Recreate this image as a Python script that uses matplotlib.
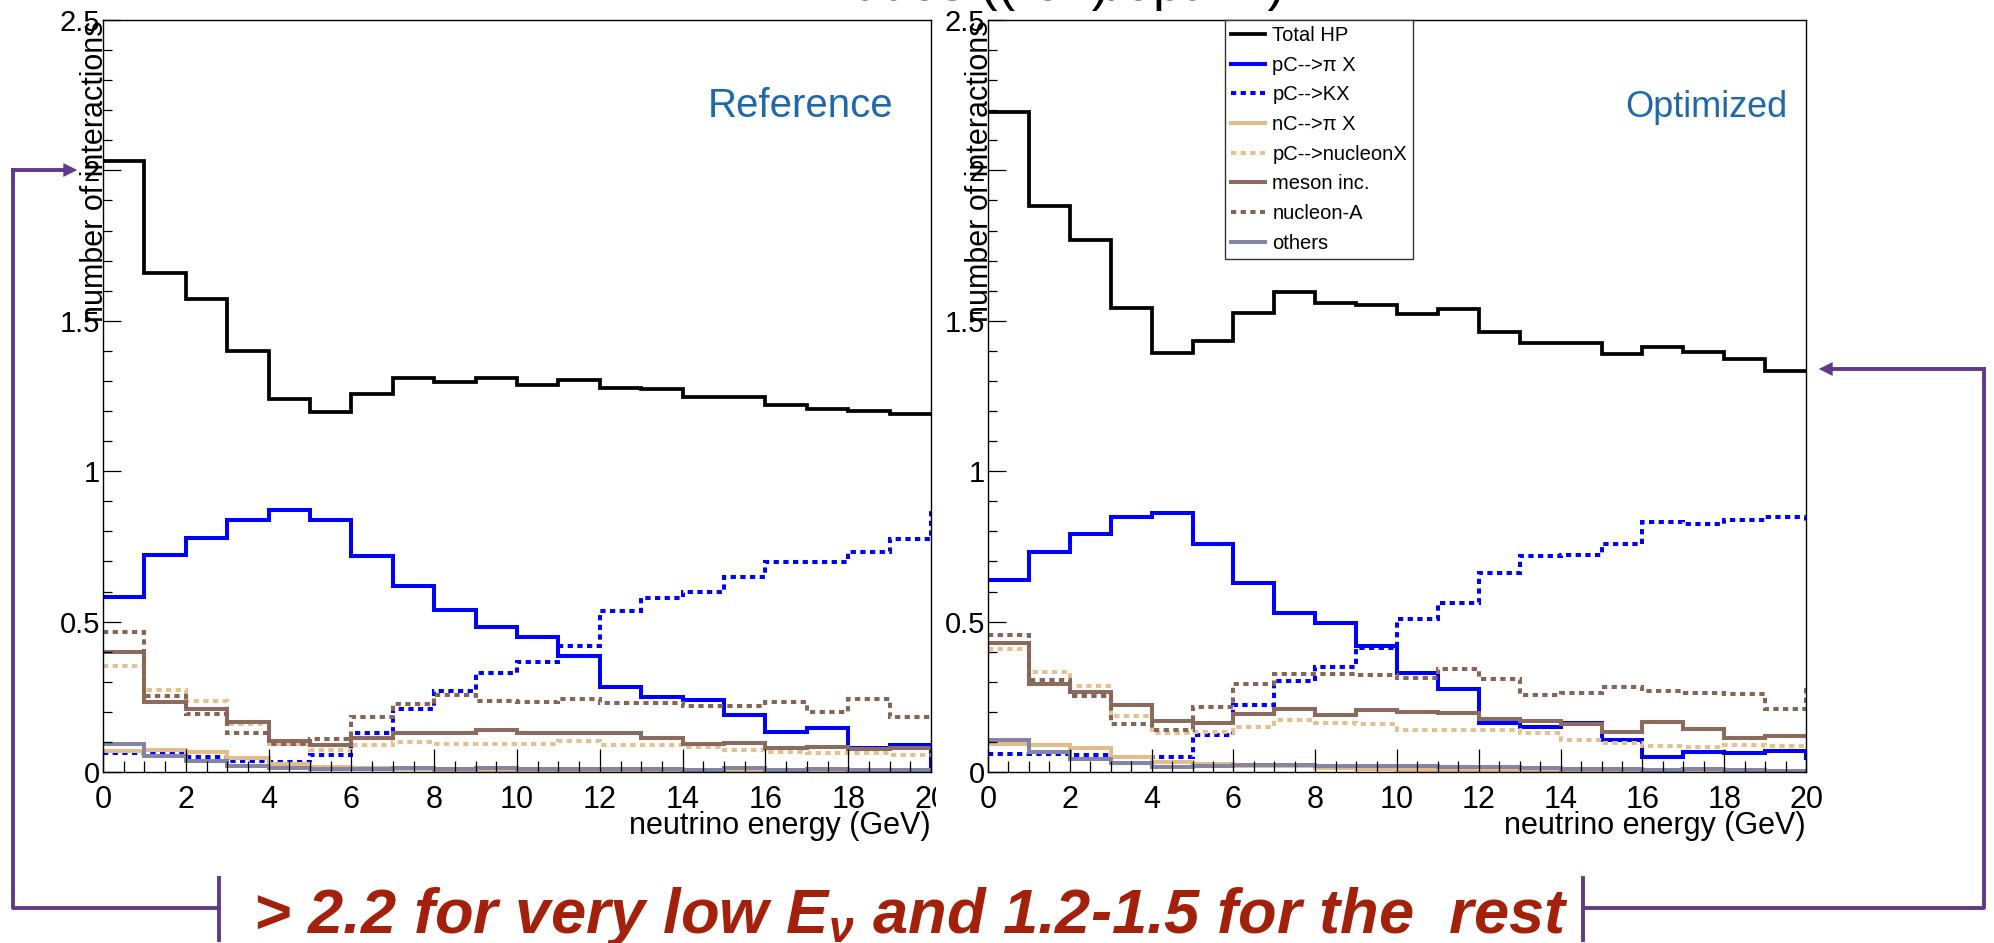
"""
Hadronic interactions per neutrino vs energy, reference and optimized target
"""
import matplotlib
matplotlib.use('Agg')
import matplotlib.pyplot as plt
import numpy as np
from matplotlib.lines import Line2D
from matplotlib.patches import Rectangle
from matplotlib.ticker import MultipleLocator, FormatStrFormatter

plt.rcParams['font.family'] = ['Liberation Sans', 'DejaVu Sans']
plt.rcParams['mathtext.fontset'] = 'custom'
plt.rcParams['mathtext.rm'] = 'Liberation Sans:bold:italic'
plt.rcParams['mathtext.it'] = 'Liberation Sans:bold:italic'

# 20 bins of 1 GeV, last edge is the overflow bin (only its left edge shows)
edges = np.arange(0, 22)

names = ['Total HP', 'pC-->π X', 'pC-->KX', 'nC-->π X',
         'pC-->nucleonX', 'meson inc.', 'nucleon-A', 'others']

# reference target
tot_ref = [2.03, 1.66, 1.573, 1.40, 1.239, 1.196, 1.256, 1.31, 1.298, 1.31,
           1.288, 1.302, 1.275, 1.272, 1.246, 1.246, 1.22, 1.208, 1.201, 1.19]
pipc_ref = [0.581, 0.72, 0.777, 0.837, 0.87, 0.838, 0.719, 0.617, 0.539, 0.483,
            0.449, 0.387, 0.281, 0.249, 0.241, 0.191, 0.133, 0.146, 0.08, 0.089]
kpc_ref = [0.063, 0.059, 0.05, 0.037, 0.034, 0.057, 0.13, 0.208, 0.269, 0.33,
           0.366, 0.42, 0.536, 0.579, 0.599, 0.649, 0.697, 0.697, 0.73, 0.774]
pinc_ref = [0.07, 0.072, 0.067, 0.048, 0.026, 0.017, 0.012, 0.01, 0.006, 0.006,
            0.006, 0.002, 0.002, 0.002, 0.002, 0.002, 0.002, 0.002, 0.002, 0.002]
nucpc_ref = [0.353, 0.272, 0.236, 0.161, 0.094, 0.072, 0.089, 0.1, 0.094, 0.094,
             0.092, 0.103, 0.089, 0.089, 0.083, 0.072, 0.067, 0.063, 0.063, 0.056]
meson_ref = [0.398, 0.234, 0.208, 0.166, 0.103, 0.089, 0.113, 0.131, 0.128, 0.139,
             0.128, 0.13, 0.128, 0.113, 0.094, 0.097, 0.08, 0.083, 0.078, 0.081]
nucA_ref = [0.467, 0.252, 0.194, 0.13, 0.094, 0.111, 0.183, 0.226, 0.256, 0.236,
            0.233, 0.244, 0.229, 0.229, 0.22, 0.22, 0.232, 0.201, 0.244, 0.183]
oth_ref = [0.092, 0.052, 0.037, 0.019, 0.012, 0.01, 0.01, 0.012, 0.01, 0.012,
           0.01, 0.011, 0.011, 0.011, 0.008, 0.012, 0.008, 0.01, 0.008, 0.006]
ovf_ref = [1.19, 0.01, 0.87, 0.002, 0.056, 0.081, 0.183, 0.006]

# optimized target
tot_opt = [2.194, 1.882, 1.77, 1.544, 1.394, 1.434, 1.527, 1.597, 1.56, 1.552,
           1.524, 1.538, 1.463, 1.427, 1.425, 1.389, 1.414, 1.396, 1.374, 1.334]
pipc_opt = [0.639, 0.731, 0.791, 0.849, 0.86, 0.758, 0.627, 0.53, 0.497, 0.42,
            0.33, 0.277, 0.163, 0.15, 0.163, 0.108, 0.05, 0.067, 0.063, 0.069]
kpc_opt = [0.059, 0.059, 0.057, 0.05, 0.05, 0.122, 0.222, 0.302, 0.35, 0.411,
           0.51, 0.561, 0.661, 0.717, 0.72, 0.759, 0.831, 0.824, 0.839, 0.847]
pinc_opt = [0.094, 0.089, 0.08, 0.05, 0.033, 0.026, 0.019, 0.021, 0.014, 0.01,
            0.008, 0.002, 0.002, 0.002, 0.002, 0.002, 0.002, 0.002, 0.002, 0.002]
nucpc_opt = [0.408, 0.333, 0.286, 0.186, 0.128, 0.133, 0.15, 0.174, 0.163, 0.159,
             0.141, 0.139, 0.139, 0.13, 0.108, 0.097, 0.088, 0.083, 0.09, 0.088]
meson_opt = [0.43, 0.292, 0.266, 0.223, 0.17, 0.163, 0.192, 0.211, 0.19, 0.206,
             0.2, 0.197, 0.177, 0.168, 0.161, 0.133, 0.166, 0.144, 0.114, 0.119]
nucA_opt = [0.454, 0.306, 0.252, 0.159, 0.141, 0.217, 0.292, 0.326, 0.326, 0.322,
            0.314, 0.343, 0.308, 0.257, 0.263, 0.281, 0.27, 0.263, 0.259, 0.208]
oth_opt = [0.106, 0.067, 0.044, 0.03, 0.017, 0.02, 0.022, 0.023, 0.02, 0.02,
           0.02, 0.017, 0.016, 0.012, 0.01, 0.01, 0.008, 0.01, 0.006, 0.003]
ovf_opt = [1.334, 0.045, 0.828, 0.002, 0.088, 0.119, 0.289, 0.003]

ref = [tot_ref, pipc_ref, kpc_ref, pinc_ref, nucpc_ref, meson_ref, nucA_ref, oth_ref]
opt = [tot_opt, pipc_opt, kpc_opt, pinc_opt, nucpc_opt, meson_opt, nucA_opt, oth_opt]

dots = (0, (1.3, 1.1))
colors = ['black', '#0000ff', '#0000ff', '#e2bd8b', '#e6c08e', '#8b6b5d', '#866556', '#8585a3']
styles = ['-', '-', dots, '-', dots, '-', dots, '-']
widths = [2.7, 2.9, 2.9, 2.9, 2.9, 2.9, 2.9, 2.9]

purple = '#60398a'
darkred = '#a3200b'
azure = '#1f68ad'

fig = plt.figure(figsize=(19.94, 9.43), dpi=100)
ax1 = fig.add_axes([103 / 1994, 171 / 943, 828 / 1994, 752 / 943])
ax2 = fig.add_axes([988 / 1994, 171 / 943, 818 / 1994, 752 / 943])
ax1.set_zorder(0)
ax2.set_zorder(1)

# right pad hides the end of the left "20" label
fig.add_artist(Rectangle((936 / 1994, 0), 1 - 936 / 1994, 1, transform=fig.transFigure,
                         facecolor='white', edgecolor='none', zorder=0.5))


def drawPanel(ax, series, overflow, tag, tag_x, tag_size):
    for vals, ov, c, ls, lw in zip(series, overflow, colors, styles, widths):
        ax.stairs(list(vals) + [ov], edges, baseline=None, color=c,
                  linestyle=ls, linewidth=lw)
    ax.set_xlim(0, 20)
    ax.set_ylim(0, 2.5)
    ax.xaxis.set_major_locator(MultipleLocator(2))
    ax.xaxis.set_minor_locator(MultipleLocator(0.5))
    ax.yaxis.set_major_locator(MultipleLocator(0.5))
    ax.yaxis.set_minor_locator(MultipleLocator(0.1))
    ax.yaxis.set_major_formatter(FormatStrFormatter('%g'))
    ax.tick_params(axis='x', which='major', direction='in', length=16.5, width=0.9,
                   labelsize=22, pad=9)
    ax.tick_params(axis='x', which='minor', direction='in', length=8, width=0.9)
    ax.tick_params(axis='y', which='major', direction='in', length=13, width=0.9,
                   labelsize=21, pad=2)
    ax.tick_params(axis='y', which='minor', direction='in', length=6.5, width=0.9)
    for s in ax.spines.values():
        s.set_linewidth(1.0)
    ax.set_xlabel('neutrino energy (GeV)', fontsize=22, loc='right')
    ax.xaxis.set_label_coords(1.0, -0.052)
    ax.set_ylabel('number of interactions', fontsize=22, loc='top')
    ax.yaxis.set_label_coords(0.0, 1.0)
    ax.yaxis.label.set_va('baseline')
    ax.text(tag_x, 0.871, tag, transform=ax.transAxes, ha='right', va='baseline',
            fontsize=tag_size, color=azure)


drawPanel(ax1, ref, ovf_ref, 'Reference', 0.954, 29)
drawPanel(ax2, opt, ovf_opt, 'Optimized', 0.977, 26)

handles = [Line2D([], [], color=c, linestyle=ls, linewidth=lw)
           for c, ls, lw in zip(colors, styles, widths)]
leg = fig.legend(handles, names, loc='upper left', bbox_to_anchor=(1225 / 1994, 1 - 20 / 943),
                 fontsize=14.5, frameon=True, fancybox=False, framealpha=1, edgecolor='#333333',
                 handlelength=1.7, handletextpad=0.35, labelspacing=0.53, borderpad=0.3,
                 borderaxespad=0)
leg.get_frame().set_linewidth(1.0)
leg.set_zorder(4)

# slide heading, mostly above the top edge
fig.text(1050 / 1994, 1.0, 'Ratios ((ref.)/optim.)',
         ha='center', va='baseline', fontsize=38, zorder=3)

# brackets tying the two y-axes to the summary line
kw = dict(color=purple, linewidth=2.8, transform=fig.transFigure, zorder=3)
H, W = 943.0, 1994.0
fig.add_artist(Line2D([13 / W, 13 / W, 219 / W], [1 - 170 / H, 1 - 908 / H, 1 - 908 / H], **kw))
fig.add_artist(Line2D([219 / W, 219 / W], [1 - 878 / H, 1 - 940 / H], **kw))
fig.add_artist(Line2D([1984 / W, 1984 / W, 1583 / W], [1 - 369 / H, 1 - 908 / H, 1 - 908 / H], **kw))
fig.add_artist(Line2D([1583 / W, 1583 / W], [1 - 878 / H, 1 - 940 / H], **kw))
fig.add_artist(Line2D([13 / W, 65 / W], [1 - 170 / H, 1 - 170 / H], **kw))
fig.add_artist(Line2D([1984 / W, 1830 / W], [1 - 369 / H, 1 - 369 / H], **kw))
ap = dict(arrowstyle='-|>,head_length=1.0,head_width=0.5', color=purple, lw=0)
fig.add_artist(plt.Annotation('', xy=(80 / W, 1 - 170 / H), xytext=(55 / W, 1 - 170 / H),
                              xycoords='figure fraction', arrowprops=ap, zorder=3))
fig.add_artist(plt.Annotation('', xy=(1816 / W, 1 - 369 / H), xytext=(1841 / W, 1 - 369 / H),
                              xycoords='figure fraction', arrowprops=ap, zorder=3))

fig.text(253 / W, 1 - 933 / H, r'> 2.2 for very low E$_{\nu}$ and 1.2-1.5 for the  rest',
         ha='left', va='baseline', fontsize=45.5, fontweight='bold', fontstyle='italic',
         color=darkred, zorder=3)

fig.savefig('out.png', dpi=100)
